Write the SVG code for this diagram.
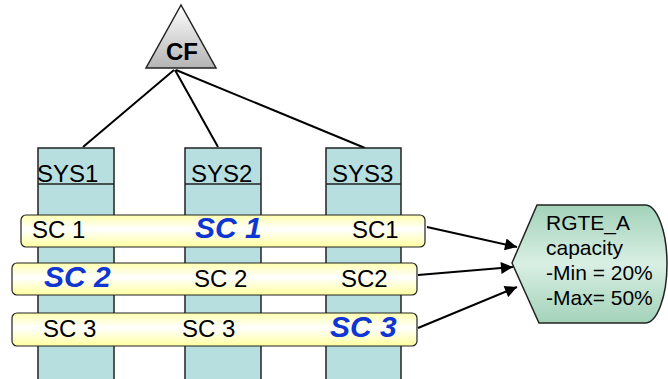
<svg xmlns="http://www.w3.org/2000/svg" width="668" height="379" viewBox="0 0 668 379">
<defs>
<linearGradient id="gTri" x1="0" y1="0" x2="0" y2="1">
<stop offset="0" stop-color="#ffffff"/><stop offset="1" stop-color="#b4b4b4"/>
</linearGradient>
<linearGradient id="gBar" x1="0" y1="0" x2="0" y2="1">
<stop offset="0" stop-color="#ffffb0"/><stop offset="0.45" stop-color="#ffffff"/><stop offset="1" stop-color="#ffffa0"/>
</linearGradient>
<linearGradient id="gRes" x1="0" y1="0" x2="0" y2="1">
<stop offset="0" stop-color="#a3d2b9"/><stop offset="0.5" stop-color="#d9efe4"/><stop offset="1" stop-color="#a3d2b9"/>
</linearGradient>
<marker id="arr" viewBox="0 0 10 10" refX="10" refY="5" markerWidth="15" markerHeight="12" markerUnits="userSpaceOnUse" orient="auto">
<path d="M0,0 L10,5 L0,10 Z" fill="#000"/>
</marker>
<style>
.col{fill:#b8dfe0;stroke:#222;stroke-width:1.5}
.bar{fill:url(#gBar);stroke:#222;stroke-width:1.2}
.t{font-family:"Liberation Sans",Arial,sans-serif;font-size:24px;fill:#000}
.b{font-family:"Liberation Sans",Arial,sans-serif;font-size:30px;font-weight:bold;font-style:italic;fill:#0f36d2}
.r{font-family:"Liberation Sans",Arial,sans-serif;font-size:21px;fill:#000}
.ln{stroke:#000;stroke-width:2;fill:none}
</style>
</defs>
<g id="connectors-cf">
<line class="ln" x1="174" y1="70" x2="83" y2="147"/>
<line class="ln" x1="175" y1="70" x2="218" y2="147"/>
<line class="ln" x1="176" y1="70" x2="365" y2="148"/>
</g>
<g id="cf">
<polygon points="181,5 146,68 216,68" fill="url(#gTri)" stroke="#222" stroke-width="1.5"/>
<text x="182" y="60" text-anchor="middle" font-family="Liberation Sans,Arial,sans-serif" font-size="24" font-weight="bold">CF</text>
</g>
<g id="sys1">
<rect class="col" x="38" y="148" width="76" height="240"/>
<line x1="38" y1="184" x2="114" y2="184" stroke="#222" stroke-width="1.5"/>
<text class="t" x="37" y="182" font-size="25">SYS1</text>
</g>
<g id="sys2">
<rect class="col" x="185" y="148" width="76" height="240"/>
<line x1="185" y1="184" x2="261" y2="184" stroke="#222" stroke-width="1.5"/>
<text class="t" x="191" y="182" font-size="25">SYS2</text>
</g>
<g id="sys3">
<rect class="col" x="326" y="148" width="75" height="240"/>
<line x1="326" y1="184" x2="401" y2="184" stroke="#222" stroke-width="1.5"/>
<text class="t" x="332" y="182" font-size="25">SYS3</text>
</g>
<g id="sc1">
<rect class="bar" x="21" y="215" width="404" height="32" rx="5"/>
<text class="t" x="32" y="238">SC 1</text>
<text class="b" x="195" y="238">SC 1</text>
<text class="t" x="352" y="238">SC1</text>
</g>
<g id="sc2">
<rect class="bar" x="12" y="263" width="405" height="32" rx="5"/>
<text class="b" x="44" y="287">SC 2</text>
<text class="t" x="194" y="287">SC 2</text>
<text class="t" x="341" y="287">SC2</text>
</g>
<g id="sc3">
<rect class="bar" x="12" y="313" width="405" height="33" rx="5"/>
<text class="t" x="43" y="337">SC 3</text>
<text class="t" x="182" y="337">SC 3</text>
<text class="b" x="330" y="337">SC 3</text>
</g>
<g id="rgte">
<path d="M512,263 L537,205 L645,205 A22,59 0 0 1 645,323 L539,323 Z" fill="url(#gRes)" stroke="#222" stroke-width="1.5"/>
<text class="r" x="546" y="230">RGTE_A</text>
<text class="r" x="546" y="255">capacity</text>
<text class="r" x="546" y="280">-Min = 20%</text>
<text class="r" x="546" y="305">-Max= 50%</text>
</g>
<g id="arrows">
<line class="ln" x1="427" y1="227" x2="517" y2="247" marker-end="url(#arr)"/>
<line class="ln" x1="418" y1="275" x2="513" y2="267" marker-end="url(#arr)"/>
<line class="ln" x1="418" y1="328" x2="517" y2="287" marker-end="url(#arr)"/>
</g>
</svg>
